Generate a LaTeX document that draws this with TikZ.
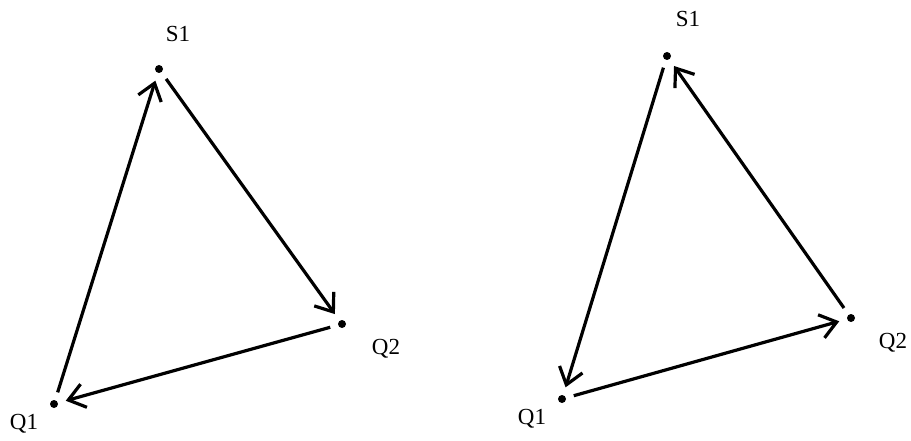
\documentclass[tikz,border=0pt]{standalone}
\usepackage{fontspec}
\setmainfont{Liberation Serif}
\usetikzlibrary{arrows.meta}
\definecolor{ptink}{HTML}{000000}
\tikzset{
  pt/.style={circle,fill=ptink,inner sep=0pt,minimum size=8pt},
  lbl/.style={font=\fontsize{23}{26}\selectfont,text=ptink,inner sep=0pt},
  flow/.style={-{Straight Barb[length=16pt,width=24pt,line width=3.2pt]},line width=3.2pt,
               draw=ptink,shorten <=8pt,shorten >=8pt},
}
\begin{document}
\begin{tikzpicture}[x=1pt,y=-1pt]
  \useasboundingbox (0,0) rectangle (911,441);
  % left triangle
  \node[pt] (s1a) at (159,69) {};
  \node[pt] (q2a) at (342,324) {};
  \node[pt] (q1a) at (54,404) {};
  \node[lbl] (s1al) at (178,34) {S1};
  \node[lbl] (q2al) at (386,349) {Q2};
  \node[lbl] (q1al) at (24,424) {Q1};
  \draw[flow] (q1a) -- (s1a);
  \draw[flow] (s1a) -- (q2a);
  \draw[flow] (q2a) -- (q1a);
  % right triangle
  \node[pt] (s1b) at (667,56) {};
  \node[pt] (q2b) at (851,318) {};
  \node[pt] (q1b) at (562,399) {};
  \node[lbl] (s1bl) at (688,19) {S1};
  \node[lbl] (q2bl) at (893,343) {Q2};
  \node[lbl] (q1bl) at (532,419) {Q1};
  \draw[flow] (s1b) -- (q1b);
  \draw[flow] (q1b) -- (q2b);
  \draw[flow] (q2b) -- (s1b);
\end{tikzpicture}
\end{document}
